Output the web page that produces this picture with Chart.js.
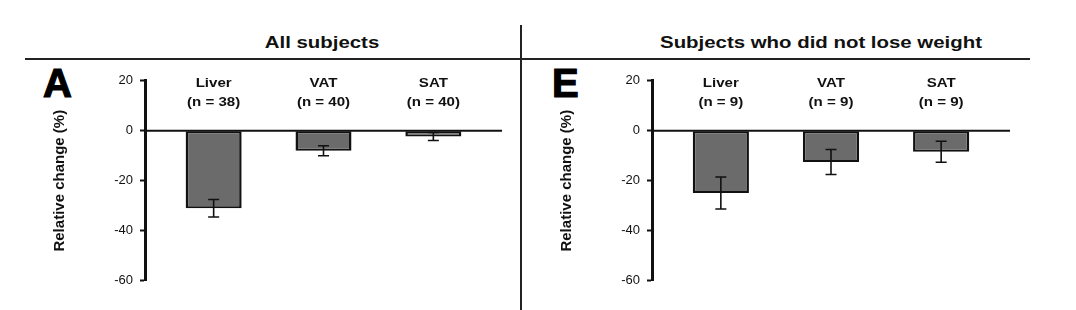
<!DOCTYPE html>
<html lang="en">
<head>
    <meta charset="UTF-8">
    <title>Relative change</title>
    <script src="https://cdn.jsdelivr.net/npm/chart.js"></script>
    <style>
        body {
            margin: 0;
            width: 1076px;
            height: 310px;
            background: #fff;
            position: relative;
            overflow: hidden;
            font-family: "Liberation Sans", Arial, sans-serif;
            color: #111;
        }

        .titulo {
            position: absolute;
            top: 34px;
            font-size: 17px;
            line-height: 17px;
            font-weight: bold;
            text-align: center;
            white-space: nowrap;
            transform: scaleX(1.2);
        }

        .letra {
            position: absolute;
            top: 63px;
            font-size: 40px;
            line-height: 40px;
            font-weight: 900;
            color: #000;
            -webkit-text-stroke: 1.2px #000;
        }

        .linha-h {
            position: absolute;
            left: 25px;
            width: 1005px;
            top: 58px;
            height: 2px;
            background: #222;
        }

        .linha-v {
            position: absolute;
            left: 520px;
            width: 1.5px;
            top: 25px;
            height: 285px;
            background: #222;
        }

        .painel {
            position: absolute;
            top: 60px;
            height: 250px;
        }
    </style>
</head>

<body>
    <div class="titulo" style="left: 222px; width: 200px;">All subjects</div>
    <div class="titulo" style="left: 671px; width: 300px;">Subjects who did not lose weight</div>
    <div class="linha-h"></div>
    <div class="linha-v"></div>
    <div class="letra" style="left: 43px;">A</div>
    <div class="letra" style="left: 552px;">E</div>

    <div class="painel" style="left: 0; width: 515px;"><canvas id="graficoA"></canvas></div>
    <div class="painel" style="left: 507px; width: 516px;"><canvas id="graficoE"></canvas></div>

    <script>
        // dados
        const regioes = ['Liver', 'VAT', 'SAT'];
        const nTodos = [38, 40, 40];
        const mediaTodos = [-31, -8, -2.3];
        const erroTodos = [3.5, 2, 1.6];
        const nSemPerda = [9, 9, 9];
        const mediaSemPerda = [-24.9, -12.5, -8.4];
        const erroSemPerda = [6.4, 5, 4.2];
        const ticksY = [-60, -40, -20, 0, 20];

        // linha do zero, barras de erro e rótulos das categorias
        const extras = {
            id: 'extras',
            afterDatasetsDraw(chart, args, opts) {
                const { ctx, chartArea, scales: { x, y } } = chart;
                ctx.save();
                ctx.strokeStyle = '#111';
                ctx.lineWidth = 2;
                ctx.beginPath();
                ctx.moveTo(chartArea.left, y.getPixelForValue(0));
                ctx.lineTo(chartArea.right, y.getPixelForValue(0));
                ctx.stroke();

                ctx.lineWidth = 1.6;
                opts.media.forEach((m, i) => {
                    const px = x.getPixelForValue(i);
                    const yTop = y.getPixelForValue(m + opts.erro[i]);
                    const yBot = y.getPixelForValue(m - opts.erro[i]);
                    ctx.beginPath();
                    ctx.moveTo(px, yTop);
                    ctx.lineTo(px, yBot);
                    ctx.moveTo(px - 5.5, yTop);
                    ctx.lineTo(px + 5.5, yTop);
                    ctx.moveTo(px - 5.5, yBot);
                    ctx.lineTo(px + 5.5, yBot);
                    ctx.stroke();
                });

                ctx.fillStyle = '#111';
                ctx.font = 'bold 13px "Liberation Sans", Arial, sans-serif';
                ctx.textAlign = 'center';
                ctx.textBaseline = 'middle';
                regioes.forEach((r, i) => {
                    const px = x.getPixelForValue(i);
                    [r, `(n = ${opts.n[i]})`].forEach((txt, k) => {
                        ctx.save();
                        ctx.translate(px, chartArea.top + 2.5 + k * 19.5);
                        ctx.scale(1.16, 1);
                        ctx.fillText(txt, 0, 0);
                        ctx.restore();
                    });
                });
                ctx.restore();
            }
        };

        function criarGrafico(id, media, erro, n) {
            const ctx = document.getElementById(id).getContext('2d');
            return new Chart(ctx, {
                type: 'bar',
                data: {
                    datasets: [{
                        data: media.map((v, i) => ({ x: i, y: v })),
                        backgroundColor: '#6b6b6b',
                        borderColor: '#111',
                        borderWidth: { left: 2.5, right: 2.5, top: 2, bottom: 2 },
                        borderSkipped: false,
                        categoryPercentage: 1,
                        barPercentage: 0.51
                    }]
                },
                plugins: [extras],
                options: {
                    responsive: true,
                    maintainAspectRatio: false,
                    animation: false,
                    layout: {
                        padding: { left: 0, right: 13, top: 20.7, bottom: 29.3 }
                    },
                    plugins: {
                        legend: { display: false },
                        tooltip: { enabled: false },
                        extras: { media: media, erro: erro, n: n }
                    },
                    scales: {
                        x: {
                            type: 'linear',
                            min: -0.625,
                            max: 2.625,
                            offset: false,
                            display: false,
                            afterBuildTicks: (s) => { s.ticks = regioes.map((r, i) => ({ value: i })); }
                        },
                        y: {
                            min: ticksY[0],
                            max: ticksY[ticksY.length - 1],
                            afterFit: (s) => { s.width = 145; },
                            afterBuildTicks: (s) => { s.ticks = ticksY.map(v => ({ value: v })); },
                            ticks: {
                                padding: 7,
                                color: '#111',
                                font: { family: '"Liberation Sans", Arial, sans-serif', size: 13 }
                            },
                            grid: {
                                drawOnChartArea: false,
                                tickLength: 5,
                                tickWidth: 2,
                                tickColor: '#111'
                            },
                            border: { color: '#111', width: 3 },
                            title: {
                                display: true,
                                text: 'Relative change (%)',
                                color: '#111',
                                padding: { top: 51, bottom: 0 },
                                font: { family: '"Liberation Sans", Arial, sans-serif', size: 15, weight: 'bold' }
                            }
                        }
                    }
                }
            });
        }

        criarGrafico('graficoA', mediaTodos, erroTodos, nTodos);
        criarGrafico('graficoE', mediaSemPerda, erroSemPerda, nSemPerda);
    </script>
</body>

</html>
